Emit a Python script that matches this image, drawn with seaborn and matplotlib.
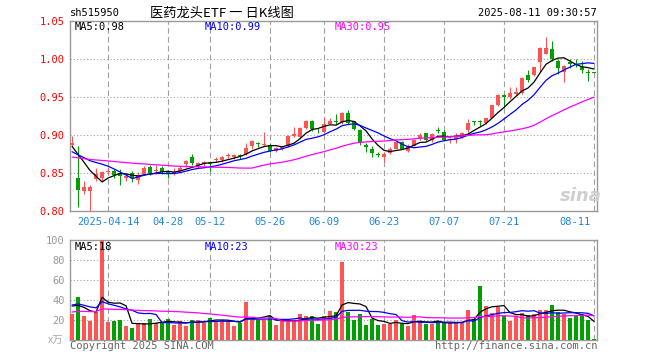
import numpy as np
import pandas as pd
import matplotlib
matplotlib.use("Agg")
import matplotlib.pyplot as plt
import seaborn as sns

# trading days 2025-04-03 .. 2025-08-11
dates = ["04-03", "04-07", "04-08", "04-09", "04-10", "04-11",
         "04-14", "04-15", "04-16", "04-17", "04-18",
         "04-21", "04-22", "04-23", "04-24", "04-25",
         "04-28", "04-29", "04-30",
         "05-06", "05-07", "05-08", "05-09",
         "05-12", "05-13", "05-14", "05-15", "05-16",
         "05-19", "05-20", "05-21", "05-22", "05-23",
         "05-26", "05-27", "05-28", "05-29", "05-30",
         "06-03", "06-04", "06-05", "06-06",
         "06-09", "06-10", "06-11", "06-12", "06-13",
         "06-16", "06-17", "06-18", "06-19", "06-20",
         "06-23", "06-24", "06-25", "06-26", "06-27",
         "06-30", "07-01", "07-02", "07-03", "07-04",
         "07-07", "07-08", "07-09", "07-10", "07-11",
         "07-14", "07-15", "07-16", "07-17", "07-18",
         "07-21", "07-22", "07-23", "07-24", "07-25",
         "07-28", "07-29", "07-30", "07-31", "08-01",
         "08-04", "08-05", "08-06", "08-07", "08-08",
         "08-11"]

open_ = [.887, .843, .826, .826, .842, .843, .851, .853, .850, .843,
         .850, .841, .849, .858, .852, .856, .852, .849, .852, .862,
         .871, .860, .862, .863, .867, .867, .872, .871, .874, .875,
         .885, .889, .887, .887, .879, .882, .885, .899, .897, .909,
         .919, .907, .904, .915, .919, .917, .929, .918, .907, .887,
         .882, .875, .871, .876, .882, .891, .879, .886, .895, .902,
         .893, .906, .904, .893, .895, .897, .906, .918, .918, .916,
         .923, .939, .953, .950, .954, .955, .979, .979, .996, 1.007,
         1.013, .998, .983, .996, .993, .989, .983, .983]
high = [.899, .885, .840, .834, .856, .853, .858, .855, .855, .850,
        .852, .851, .859, .861, .860, .859, .854, .856, .859, .867,
        .875, .865, .866, .865, .871, .873, .876, .875, .875, .890,
        .894, .891, .904, .890, .884, .886, .900, .910, .911, .920,
        .920, .909, .924, .923, .928, .930, .933, .919, .908, .890,
        .885, .877, .877, .884, .893, .892, .888, .895, .902, .903,
        .902, .910, .906, .896, .902, .904, .921, .919, .920, .923,
        .940, .954, .954, .963, .963, .976, .986, .990, 1.016, 1.029,
        1.024, 1.000, .992, 1.000, 1.000, .997, .987, .983]
low = [.885, .805, .822, .800, .840, .840, .849, .844, .834, .840,
       .838, .835, .848, .848, .849, .849, .843, .847, .851, .858,
       .860, .857, .859, .853, .864, .864, .870, .869, .869, .874,
       .882, .884, .885, .878, .877, .880, .884, .897, .896, .908,
       .905, .902, .903, .914, .915, .915, .915, .907, .887, .877,
       .871, .871, .865, .875, .881, .881, .877, .885, .893, .892,
       .891, .902, .892, .890, .889, .896, .904, .913, .912, .915,
       .922, .938, .937, .948, .952, .954, .970, .978, .983, 1.006,
       .998, .980, .970, .988, .989, .982, .971, .982]
close = [.889, .827, .832, .832, .849, .851, .853, .848, .846, .846,
         .843, .847, .856, .850, .854, .851, .850, .851, .857, .866,
         .863, .863, .864, .862, .868, .871, .873, .874, .873, .883,
         .892, .888, .888, .879, .883, .884, .899, .901, .909, .919,
         .908, .906, .915, .919, .917, .929, .916, .908, .890, .884,
         .876, .874, .875, .882, .891, .882, .885, .893, .900, .893,
         .901, .905, .893, .895, .899, .903, .916, .917, .917, .922,
         .939, .953, .950, .955, .957, .975, .972, .989, 1.015, 1.014,
         1.000, .988, .991, .993, .992, .985, .982, .982]
# volume in 万
volume = [26, 43, 24, 19, 28, 100, 18, 19, 20, 14,
          12, 17, 17, 21, 17, 17, 21, 15, 19, 14,
          20, 20, 19, 22, 19, 20, 19, 14, 17, 38,
          20, 20, 20, 24, 15, 19, 19, 19, 26, 24,
          24, 16, 24, 29, 28, 78, 28, 20, 26, 15,
          21, 15, 16, 16, 20, 16, 14, 25, 19, 16,
          16, 19, 17, 17, 17, 17, 30, 21, 54, 34,
          27, 33, 24, 19, 24, 27, 25, 26, 30, 30,
          35, 28, 26, 22, 24, 26, 20, 1]

# earlier sessions (estimated from where the MA lines start)
close_before = [.860, .862, .865, .868, .870, .872, .871, .869, .866, .864,
                .866, .868, .870, .869, .867, .866, .868, .870, .869, .870,
                .868, .870, .872, .872, .873, .880, .884, .886, .886]
vol_before = [22, 25, 28, 24, 21, 26, 25, 23, 20, 24,
              27, 25, 22, 26, 24, 24, 23, 25, 26, 30,
              32, 38, 35, 37, 38, 40, 34, 36, 34]

tick_dates = ["04-14", "04-28", "05-12", "05-26", "06-09", "06-23", "07-07", "07-21", "08-11"]
tick_labels = ["2025-04-14", "04-28", "05-12", "05-26", "06-09", "06-23", "07-07", "07-21", "08-11"]
price_ticks = [0.80, 0.85, 0.90, 0.95, 1.00, 1.05]
vol_ticks = [20, 40, 60, 80, 100]
ma_periods = [5, 10, 30]
ma_price_text = ["MA5:0.98", "MA10:0.99", "MA30:0.95"]
ma_vol_text = ["MA5:18", "MA10:23", "MA30:23"]

RED = "#ff5454"
GREEN = "#00a000"
MA_COLORS = ["black", "#0000ff", "#ff00ff"]
GRAY = "#a0a0a0"

sns.set_style("white")
plt.rcParams["font.family"] = ["DejaVu Sans Mono"]

df = pd.DataFrame({"date": dates, "open": open_, "high": high, "low": low,
                   "close": close, "volume": volume})
df["x"] = np.arange(len(df))
df["dir"] = np.where(df["close"] >= df["open"], "up", "down")
n_before = len(close_before)
all_close = pd.Series(close_before + close)
all_vol = pd.Series(vol_before + volume)
for p in ma_periods:
    df[f"ma{p}"] = all_close.rolling(p).mean().iloc[n_before:].values
    df[f"vma{p}"] = all_vol.rolling(p).mean().iloc[n_before:].values

W, H = 660, 360
fig = plt.figure(figsize=(W / 100, H / 100), dpi=100)
ax = fig.add_axes([70 / W, 1 - 211 / H, 527 / W, 190 / H])
axv = fig.add_axes([70 / W, 1 - 340 / H, 527 / W, 100 / H])
xlim = (-0.35, 87.5)

# ---- price panel ----
cols = np.where(df["dir"] == "up", RED, GREEN)
ax.vlines(df["x"], df["low"], df["high"], colors=cols, lw=0.75, zorder=3)
body_lo = np.minimum(df["open"], df["close"])
body_h = np.maximum(np.abs(df["close"] - df["open"]), 0.0012)
ax.bar(df["x"], body_h, bottom=body_lo, width=0.8, color=cols, lw=0, zorder=4,
       antialiased=False)
for p, c in zip(ma_periods, MA_COLORS):
    sns.lineplot(x=df["x"], y=df[f"ma{p}"], ax=ax, color=c, lw=0.9, zorder=5)

# ---- volume panel ----
sns.barplot(x=df["x"], y=df["volume"], hue=df["dir"], palette={"up": RED, "down": GREEN},
            native_scale=True, dodge=False, width=0.8, saturation=1, errorbar=None,
            legend=False, ax=axv, zorder=3, linewidth=0, antialiased=False)
for p, c in zip(ma_periods, MA_COLORS):
    sns.lineplot(x=df["x"], y=df[f"vma{p}"], ax=axv, color=c, lw=0.9, zorder=5)

tick_x = [dates.index(d) for d in tick_dates]
for a, lims, ticks in [(ax, (0.80, 1.05), price_ticks), (axv, (0, 100), vol_ticks)]:
    a.set_xlim(*xlim)
    a.set_ylim(*lims)
    a.set_xlabel("")
    a.set_ylabel("")
    a.set_xticks([])
    a.set_yticks(ticks)
    a.tick_params(length=0, pad=4)
    for s in a.spines.values():
        s.set_color("#999999")
        s.set_linewidth(1)
    for t in ticks[1:-1] if a is ax else ticks[:-1]:
        a.axhline(t, color=GRAY, lw=0.8, ls=(0, (1, 2)), zorder=1)
    for tx in tick_x:
        a.axvline(tx, color=GRAY, lw=0.8, ls=(0, (5, 3)), zorder=1)

ax.set_yticklabels([f"{t:.2f}" for t in price_ticks], color="red", fontsize=7.5)
axv.set_yticklabels([str(t) for t in vol_ticks], color="#999999", fontsize=7.5)

for i, (tx, lab) in enumerate(zip(tick_x, tick_labels)):
    last = i == len(tick_x) - 1
    ax.text(tx - (0.5 if last else 0), 0.80 - 0.014, lab, ha="right" if last else "center",
            va="center", color="#1c86e8", fontsize=7.5, clip_on=False)

def ftext(x, y, s, **kw):
    fig.text(x / W, 1 - y / H, s, va="center", **kw)

ftext(70, 13, "sh515950", fontsize=7.5, color="black")
ftext(150, 13, "医药龙头ETF 一 日K线图", fontsize=9.5, color="black",
      family=["Noto Sans CJK SC", "DejaVu Sans"])
ftext(597, 13, "2025-08-11 09:30:57", fontsize=7.5, color="black", ha="right")
for xx, s, c in zip([75, 205, 335], ma_price_text, MA_COLORS):
    ftext(xx, 27, s, fontsize=7.5, color=c)
for xx, s, c in zip([75, 205, 335], ma_vol_text, MA_COLORS):
    ftext(xx, 247, s, fontsize=7.5, color=c)
ftext(48, 341, "x万", fontsize=7.5, color="#aaaaaa", family=["Noto Sans CJK SC", "DejaVu Sans"])
ftext(70, 346, "Copyright 2025 SINA.COM", fontsize=7.5, color="#666666")
ftext(597, 346, "http://finance.sina.com.cn", fontsize=7.5, color="#666666", ha="right")
ftext(581, 196, "sina", fontsize=13, color="#cfcfcf", ha="center", fontstyle="italic",
      fontweight="bold", family=["DejaVu Sans"])

fig.savefig("out.png", dpi=100)
